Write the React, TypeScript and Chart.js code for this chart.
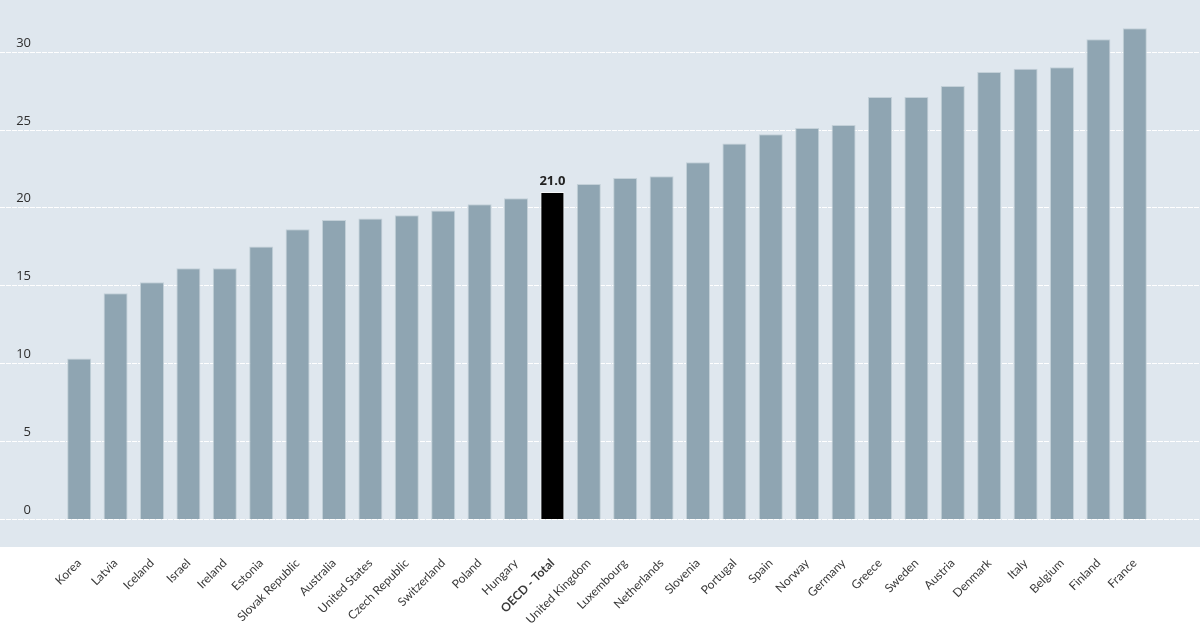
import React, { useEffect, useRef } from "react";
import { Chart, registerables } from "chart.js";

Chart.register(...registerables);

const countries = [
  "Korea", "Latvia", "Iceland", "Israel", "Ireland", "Estonia", "Slovak Republic",
  "Australia", "United States", "Czech Republic", "Switzerland", "Poland", "Hungary",
  "OECD - Total", "United Kingdom", "Luxembourg", "Netherlands", "Slovenia", "Portugal",
  "Spain", "Norway", "Germany", "Greece", "Sweden", "Austria", "Denmark", "Italy",
  "Belgium", "Finland", "France",
];

const values = [
  10.3, 14.5, 15.2, 16.1, 16.1, 17.5, 18.6, 19.2, 19.3, 19.5, 19.8, 20.2, 20.6,
  21.0, 21.5, 21.9, 22.0, 22.9, 24.1, 24.7, 25.1, 25.3, 27.1, 27.1, 27.8, 28.7,
  28.9, 29.0, 30.8, 31.5,
];

const yTicks = [0, 5, 10, 15, 20, 25, 30];
const highlight = "OECD - Total";

const BG = "#dfe7ee";
const BAR = "#8fa5b2";

const bgPlugin = {
  id: "bgPlugin",
  beforeDraw(chart: any) {
    const { ctx, chartArea, scales } = chart;
    const y = scales.y;
    ctx.save();
    ctx.fillStyle = BG;
    ctx.fillRect(0, 0, chart.width, chartArea.bottom + 28);
    ctx.strokeStyle = "#ffffff";
    ctx.lineWidth = 1;
    ctx.setLineDash([5, 1]);
    ctx.font = "13px 'Open Sans', 'DejaVu Sans', sans-serif";
    ctx.fillStyle = "#2e2e2e";
    ctx.textAlign = "right";
    ctx.textBaseline = "middle";
    yTicks.forEach((t) => {
      const py = Math.round(y.getPixelForValue(t)) + 0.5;
      ctx.beginPath();
      ctx.moveTo(0, py);
      ctx.lineTo(chart.width, py);
      ctx.stroke();
      ctx.fillText(String(t), 31, py - 9);
    });
    ctx.restore();
  },
  afterDatasetsDraw(chart: any) {
    const { ctx } = chart;
    const idx = countries.indexOf(highlight);
    const el = chart.getDatasetMeta(0).data[idx];
    if (!el) return;
    ctx.save();
    ctx.font = "bold 13px 'Open Sans', 'DejaVu Sans', sans-serif";
    ctx.fillStyle = "#222222";
    ctx.textAlign = "center";
    ctx.textBaseline = "bottom";
    ctx.fillText(values[idx].toFixed(1), el.x, el.y - 4);
    ctx.restore();
  },
};

export default function App() {
  const ref = useRef<HTMLCanvasElement>(null);
  useEffect(() => {
    document.body.style.margin = "0";
    const chart = new Chart(ref.current!, {
      type: "bar",
      data: {
        labels: countries,
        datasets: [
          {
            data: values,
            backgroundColor: countries.map((c) => (c === highlight ? "#000000" : BAR)),
            borderColor: countries.map((c) => (c === highlight ? "#f4f6f8" : "#c3d0d8")),
            borderWidth: 1,
            barPercentage: 0.66,
            categoryPercentage: 1,
          },
        ],
      },
      options: {
        animation: false,
        responsive: false,
        maintainAspectRatio: false,
        layout: { padding: { left: 61, right: 47, top: 5, bottom: 0 } },
        plugins: { legend: { display: false }, tooltip: { enabled: false } },
        scales: {
          x: {
            grid: { display: false },
            border: { display: false },
            afterFit: (scale: any) => {
              scale.height = 108;
            },
            ticks: {
              autoSkip: false,
              minRotation: 45,
              maxRotation: 45,
              padding: 29,
              color: "#3a3a3a",
              font: (ctx: any) => ({
                family: "Lato, 'Open Sans', sans-serif",
                size: 12,
                weight: ctx.tick && ctx.tick.label === highlight ? "bold" : "normal",
              }),
            },
          },
          y: {
            display: false,
            min: 0,
            max: 33,
          },
        },
      },
      plugins: [bgPlugin],
    });
    return () => chart.destroy();
  }, []);
  return (
    <div style={{ width: 1200, height: 627 }}>
      <canvas ref={ref} width={1200} height={627} style={{ width: 1200, height: 627 }} />
    </div>
  );
}
